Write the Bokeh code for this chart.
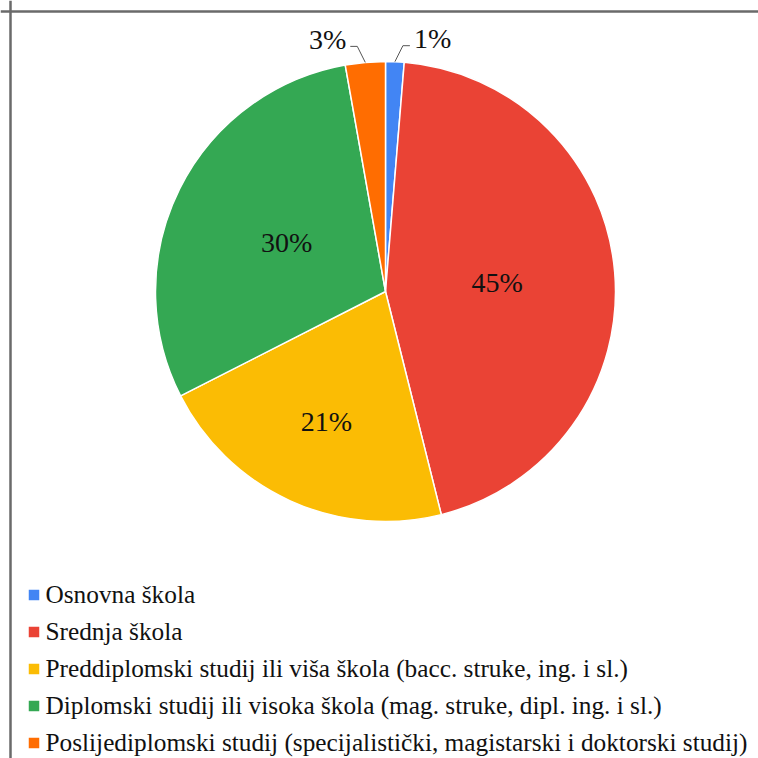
import math
from bokeh.plotting import figure
from bokeh.models import ColumnDataSource, Range1d, Legend, LegendItem, Span
from bokeh.core.properties import value
from bokeh.embed import file_html
from bokeh.resources import INLINE

categories = [
    "Osnovna škola",
    "Srednja škola",
    "Preddiplomski studij ili viša škola (bacc. struke, ing. i sl.)",
    "Diplomski studij ili visoka škola (mag. struke, dipl. ing. i sl.)",
    "Poslijediplomski studij (specijalistički, magistarski i doktorski studij)",
]
shares = [1.3, 44.8, 21.4, 29.7, 2.8]
pct_labels = ["1%", "45%", "21%", "30%", "3%"]
colors = ["#4285F4", "#EA4335", "#FBBC04", "#34A853", "#FF6D01"]
label_inside = [False, True, True, True, False]
label_radius = [1.0, 0.487, 0.62, 0.48, 1.0]

W = 758
H = 758
CX, CY, R = 385, 467, 230
FONT = "Liberation Serif"

total = sum(shares)
starts, ends, mids = [], [], []
cum = 0.0
for s in shares:
    a0 = math.pi / 2 - 2 * math.pi * cum / total
    cum += s
    a1 = math.pi / 2 - 2 * math.pi * cum / total
    starts.append(a0)
    ends.append(a1)
    mids.append((a0 + a1) / 2)

src = ColumnDataSource(dict(
    x=[CX] * len(shares), y=[CY] * len(shares),
    start=starts, end=ends, color=colors, label=categories,
))

p = figure(width=W, height=H, output_backend="svg", toolbar_location=None,
           x_range=Range1d(0, W), y_range=Range1d(0, H), min_border=0,
           background_fill_color="white", border_fill_color="white")
p.axis.visible = False
p.grid.visible = False
p.outline_line_color = None

# frame border (only left and top edges visible in the cropped original)
p.add_layout(Span(location=10, dimension="height", line_color="#6a6a6a", line_width=2.5))
p.add_layout(Span(location=H - 11, dimension="width", line_color="#6a6a6a", line_width=2.5))

wr = p.wedge(x="x", y="y", radius=R, start_angle="start", end_angle="end",
             direction="clock", fill_color="color", line_color="white",
             line_width=1.5, source=src)

# inside labels
ix, iy, it = [], [], []
for i, m in enumerate(mids):
    if label_inside[i]:
        ix.append(CX + R * label_radius[i] * math.cos(m))
        iy.append(CY + R * label_radius[i] * math.sin(m))
        it.append(pct_labels[i])
p.text(x=ix, y=iy, text=it, text_font=value(FONT), text_font_size="28px",
       text_color="#111111", text_align="center", text_baseline="middle")

# outside labels with leader lines
for i, m in enumerate(mids):
    if label_inside[i]:
        continue
    ex = CX + R * math.cos(m)
    ey = CY + R * math.sin(m)
    sgn = 1 if math.cos(m) >= 0 else -1
    bx = ex + sgn * 8
    by = ey + 16
    hx = bx + sgn * 7
    p.line([ex, bx, hx], [ey, by, by], line_color="#555555", line_width=1)
    p.text(x=[hx + sgn * 4], y=[by + 7], text=[pct_labels[i]],
           text_font=value(FONT), text_font_size="28px", text_color="#111111",
           text_align="left" if sgn > 0 else "right",
           text_baseline="middle")

items = [LegendItem(label=c, renderers=[wr], index=i) for i, c in enumerate(categories)]
legend = Legend(items=items, location=(25.5, -2.5), orientation="vertical",
                label_text_font=FONT, label_text_font_size="25.3px",
                label_text_color="#111111", label_height=37, glyph_height=15,
                glyph_width=15, spacing=0, padding=0, margin=0,
                label_standoff=5, border_line_color=None,
                background_fill_alpha=0)
p.add_layout(legend, "center")

open("out.html", "w").write(file_html(p, INLINE))
